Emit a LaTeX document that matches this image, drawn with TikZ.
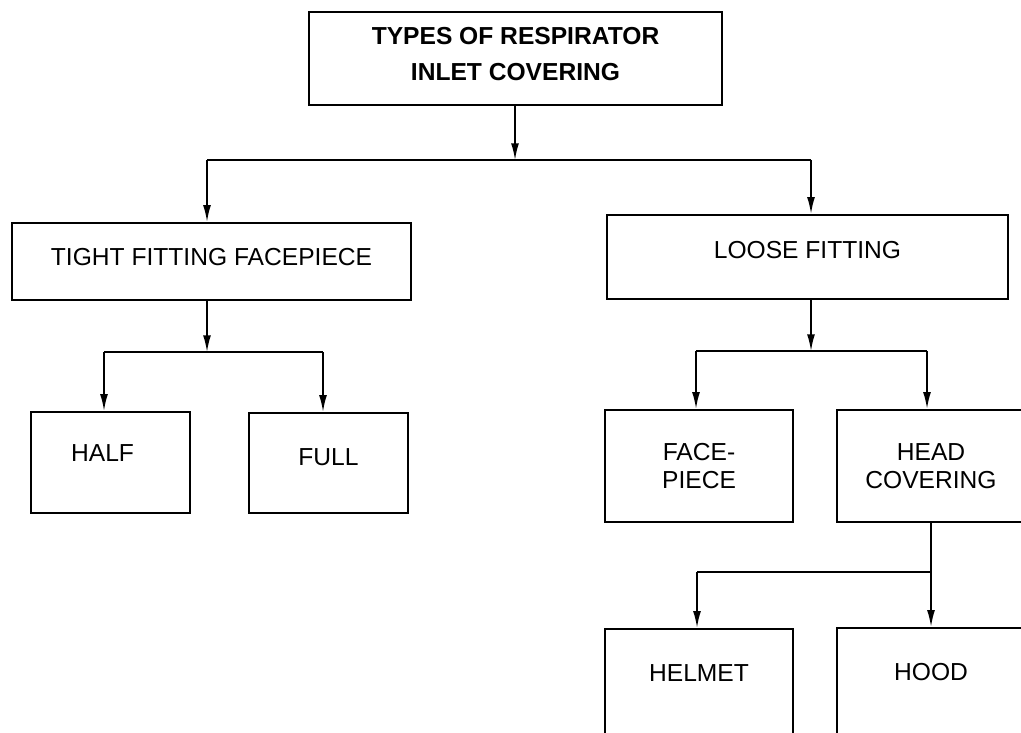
\documentclass[tikz,border=0pt]{standalone}
\usepackage{fontspec}
\setmainfont{Liberation Sans}
\usepackage{tikz}
\usetikzlibrary{arrows.meta}
\usetikzlibrary{calc}

\begin{document}
\begin{tikzpicture}[x=0.02cm,y=-0.02cm,
  box/.style={draw,line width=1.4pt,inner sep=0pt,align=center,font=\fontsize{14}{16}\selectfont},
  arr/.style={line width=0.9pt,-{Latex[length=9.5pt,width=4.5pt]}},
  ln/.style={line width=0.9pt}]
  \clip (0,0) rectangle (1021,733);
  \node[box,minimum width=8.26cm,minimum height=1.86cm,text depth=5.7pt,font=\bfseries\fontsize{14}{20.5}\selectfont] (top) at (515.5,58.5) {TYPES OF RESPIRATOR\\INLET COVERING};
  \node[box,minimum width=7.98cm,minimum height=1.54cm,text depth=5.1pt] (tight) at (211.5,261.5) {TIGHT FITTING FACEPIECE};
  \node[box,minimum width=8.02cm,minimum height=1.68cm,text depth=8pt] (loose) at (807.5,257) {LOOSE FITTING};
  \node[box,minimum width=3.18cm,minimum height=2.02cm,text depth=11.3pt] (half) at (110.5,462.5) {HALF\kern9pt};
  \node[box,minimum width=3.18cm,minimum height=2cm,text depth=6.8pt] (full) at (328.5,463) {FULL};
  \node[box,minimum width=3.76cm,minimum height=2.24cm] (face) at (699,466) {FACE-\\PIECE};
  \node[box,minimum width=3.76cm,minimum height=2.24cm] (head) at (931,466) {HEAD\\COVERING};
  \node[box,minimum width=3.76cm,minimum height=2.24cm,text depth=13.6pt] (helmet) at (699,685) {HELMET};
  \node[box,minimum width=3.76cm,minimum height=2.24cm,text depth=13.6pt] (hood) at (931,684) {HOOD};
  \coordinate (j1) at (515,160);
  \coordinate (j1l) at (207,160);
  \coordinate (j1r) at (811,160);
  \coordinate (j2) at (207,352);
  \coordinate (j2l) at (104,352);
  \coordinate (j2r) at (323,352);
  \coordinate (j3) at (811,351);
  \coordinate (j3l) at (696,351);
  \coordinate (j3r) at (927,351);
  \coordinate (j4) at (931,572);
  \coordinate (j4l) at (697,572);
  \draw[arr] (top.south -| j1) -- (j1);
  \draw[ln] (j1l) -- (j1r);
  \draw[arr] (j1l) -- (j1l |- tight.north);
  \draw[arr] (j1r) -- (j1r |- loose.north);
  \draw[arr] (tight.south -| j2) -- (j2);
  \draw[ln] (j2l) -- (j2r);
  \draw[arr] (j2l) -- (j2l |- half.north);
  \draw[arr] (j2r) -- (j2r |- full.north);
  \draw[arr] (loose.south -| j3) -- (j3);
  \draw[ln] (j3l) -- (j3r);
  \draw[arr] (j3l) -- (j3l |- face.north);
  \draw[arr] (j3r) -- (j3r |- head.north);
  \draw[ln] (head.south -| j4) -- (j4);
  \draw[ln] (j4l) -- (j4);
  \draw[arr] (j4l) -- (j4l |- helmet.north);
  \draw[arr] (j4) -- (j4 |- hood.north);
\end{tikzpicture}
\end{document}
